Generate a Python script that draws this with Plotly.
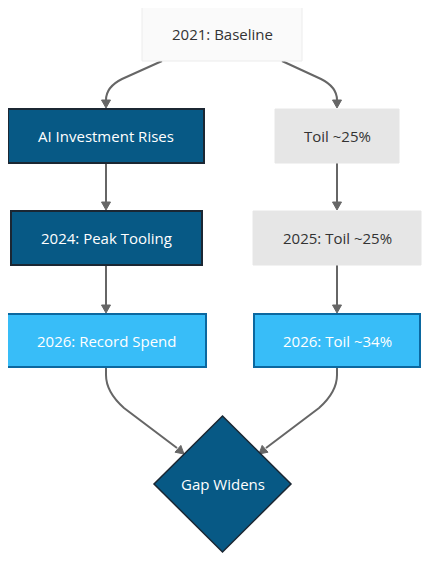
import plotly.graph_objects as go
import math

# Node data
node_labels = ["2021: Baseline", "AI Investment Rises", "Toil ~25%", "2024: Peak Tooling",
               "2025: Toil ~25%", "2026: Record Spend", "2026: Toil ~34%", "Gap Widens"]
node_styles = ["base", "dark", "grey", "dark", "grey", "light", "light", "diamond"]
edges = [(0, 1), (0, 2), (1, 3), (2, 4), (3, 5), (4, 6), (5, 7), (6, 7)]

# layout geometry (pixel coords) -- boxes: x0, y0, x1, y1
boxes = [
    (142, 7, 302, 61),
    (8, 109, 204, 163),
    (275, 109, 399, 163),
    (11, 211, 202, 265),
    (253, 211, 421, 265),
    (7, 314, 206, 367),
    (254, 314, 420, 367),
    (154, 416, 291, 552),
]

styles = {
    "base": dict(fill="#fafafa", line="#ececec", lw=1, font="#333333"),
    "dark": dict(fill="#075985", line="#1b2733", lw=2, font="#ffffff"),
    "grey": dict(fill="#e6e6e6", line="#e6e6e6", lw=1, font="#333333"),
    "light": dict(fill="#38bdf8", line="#0b68a0", lw=2, font="#ffffff"),
    "diamond": dict(fill="#075985", line="#1b2733", lw=1.5, font="#ffffff"),
}

routes = {
    (0, 1): "M162,61 L122,79 Q106,87 106,100",
    (0, 2): "M282,61 L321,79 Q337,87 337,100",
    (1, 3): "M106,163 L106,202",
    (2, 4): "M337,163 L337,202",
    (3, 5): "M106,265 L106,305",
    (4, 6): "M337,265 L337,305",
    (5, 7): "M106,367 L106,375 Q106,392 124,408 L177,448",
    (6, 7): "M337,367 L337,375 Q337,392 319,408 L266,448",
}
tips = {
    (0, 1): ((106, 100), (106, 108)),
    (0, 2): ((337, 100), (337, 108)),
    (1, 3): ((106, 202), (106, 210)),
    (2, 4): ((337, 202), (337, 210)),
    (3, 5): ((106, 305), (106, 313)),
    (4, 6): ((337, 305), (337, 313)),
    (5, 7): ((177, 448), (184, 454)),
    (6, 7): ((266, 448), (259, 454)),
}

fig = go.Figure()
shapes = []
annotations = []
edge_color = "#666666"

for e in edges:
    shapes.append(dict(type="path", path=routes[e], xref="x", yref="y",
                       line=dict(color=edge_color, width=2), layer="below"))
    (bx, by), (tx, ty) = tips[e]
    dx, dy = tx - bx, ty - by
    L = math.hypot(dx, dy)
    ux, uy = dx / L, dy / L
    px, py = -uy, ux
    hl, hw = 8, 4.5
    b0x, b0y = tx - ux * hl, ty - uy * hl
    p = f"M{tx},{ty} L{b0x + px * hw},{b0y + py * hw} L{b0x - px * hw},{b0y - py * hw} Z"
    shapes.append(dict(type="path", path=p, xref="x", yref="y",
                       fillcolor=edge_color, line=dict(color=edge_color, width=1), layer="below"))

for i, lab in enumerate(node_labels):
    st = styles[node_styles[i]]
    x0, y0, x1, y1 = boxes[i]
    cx, cy = (x0 + x1) / 2, (y0 + y1) / 2
    if node_styles[i] == "diamond":
        p = f"M{cx},{y0} L{x1},{cy} L{cx},{y1} L{x0},{cy} Z"
        shapes.append(dict(type="path", path=p, xref="x", yref="y",
                           fillcolor=st["fill"], line=dict(color=st["line"], width=st["lw"])))
    else:
        shapes.append(dict(type="rect", x0=x0, y0=y0, x1=x1, y1=y1, xref="x", yref="y",
                           fillcolor=st["fill"], line=dict(color=st["line"], width=st["lw"])))
    annotations.append(dict(x=cx, y=cy, xref="x", yref="y", text=lab, showarrow=False,
                            font=dict(family="'Open Sans', sans-serif", size=15, color=st["font"]),
                            xanchor="center", yanchor="middle"))

# page has an 8px body margin: shift the axis window so pixel coordinates line up
fig.update_layout(
    width=436, height=570,
    margin=dict(l=0, r=0, t=0, b=0),
    paper_bgcolor="white", plot_bgcolor="white",
    xaxis=dict(range=[8, 444], visible=False, fixedrange=True),
    yaxis=dict(range=[578, 8], visible=False, fixedrange=True),
    shapes=shapes, annotations=annotations, showlegend=False,
)
fig.write_html("out.html")
